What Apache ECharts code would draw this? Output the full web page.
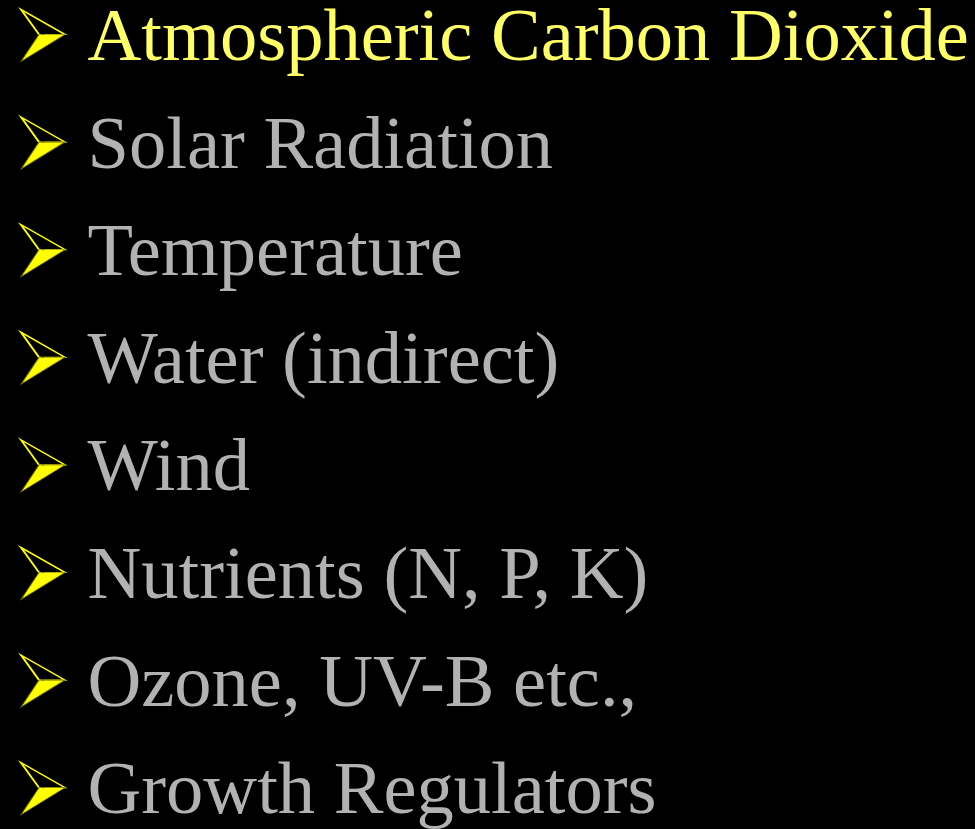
<!DOCTYPE html>
<html>
<head>
<meta charset="utf-8">
<script src="https://cdn.jsdelivr.net/npm/echarts@6/dist/echarts.min.js"></script>
<style>
  html, body { margin: 0; padding: 0; background: #000; }
  #main { width: 975px; height: 829px; }
</style>
</head>
<body>
<div id="main"></div>
<script>
// slide bullets, top to bottom
var items = [
  'Atmospheric Carbon Dioxide',
  'Solar Radiation',
  'Temperature',
  'Water (indirect)',
  'Wind',
  'Nutrients (N, P, K)',
  'Ozone, UV-B etc.,',
  'Growth Regulators'
]
// which bullet is highlighted (1 = yellow)
var highlight = [1, 0, 0, 0, 0, 0, 0, 0]

var chart = echarts.init(document.getElementById('main'))

var pts = items.map(function(name, i) { return [0, i] })

var textPts = items.map(function(name, i) {
  return {
    value: [0, i],
    label: { color: highlight[i] ? '#ffff66' : '#b2b2b2' }
  }
})

chart.setOption({
  backgroundColor: '#000',
  animation: false,
  grid: { left: 43, right: 0, top: 0, bottom: 0 },
  xAxis: { type: 'value', min: 0, max: 1, show: false },
  // row i sits at 34.5px + i * 107.6px
  yAxis: { type: 'value', min: -0.3206, max: 7.384, inverse: true, show: false },
  series: [
    {
      // upper half of the arrowhead: outlined
      type: 'scatter',
      data: pts,
      symbol: 'path://M0,0 L44,25 L18,25 Z',
      symbolSize: [44, 25],
      symbolOffset: [0, -12.5],
      itemStyle: { color: '#000', borderColor: '#ffff00', borderWidth: 1.6, opacity: 1 }
    },
    {
      // lower half of the arrowhead: filled
      type: 'scatter',
      data: pts,
      symbol: 'path://M18,0 L44,0 L0,27 Z',
      symbolSize: [44, 27],
      symbolOffset: [0, 13.5],
      itemStyle: { color: '#ffff00', borderColor: '#6b6b00', borderWidth: 0.8, opacity: 1 }
    },
    {
      // bullet text
      type: 'scatter',
      data: textPts,
      symbolSize: 1,
      itemStyle: { color: '#000', opacity: 1 },
      label: {
        show: true,
        position: 'right',
        distance: 44,
        offset: [0, 6],
        formatter: function(p) { return items[p.dataIndex] },
        fontFamily: '"Liberation Serif", "Times New Roman", serif',
        fontSize: 74.5
      }
    }
  ]
})
</script>
</body>
</html>
